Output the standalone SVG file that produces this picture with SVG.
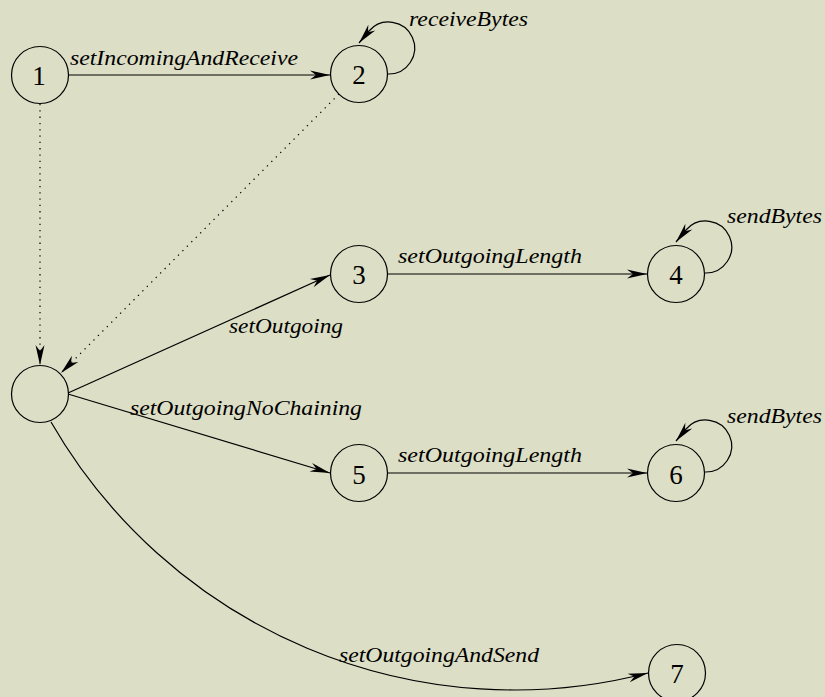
<svg xmlns="http://www.w3.org/2000/svg" width="825" height="697" viewBox="0 0 825 697">
<defs>
<style>
.node circle{fill:none;stroke:#000;stroke-width:1.2}
.node text{font-size:27px;fill:#000;text-anchor:middle}
.edge{fill:none;stroke:#000;stroke-width:1.2;marker-end:url(#arr)}
.dot{stroke-dasharray:1.3 5}
.lbl{font-style:italic;font-size:20px;fill:#000}
</style>
<marker id="arr" markerUnits="userSpaceOnUse" viewBox="-21 -5 22 10" refX="0" refY="0" markerWidth="22" markerHeight="10" orient="auto">
<path d="M0,0 L-20,-4.5 L-14,0 L-20,4.5 Z" fill="#000"/>
</marker>
</defs>
<rect x="0" y="0" width="825" height="697" fill="#dcdec5"/>
<g id="connectors">
<path class="edge" d="M69,75 L330,75"/>
<path class="edge" d="M388,74 A26,26 0 1 0 369,31 L359,43"/>
<path class="edge dot" d="M40,104 L40,365"/>
<path class="edge dot" d="M339,94 L61,373"/>
<path class="edge" d="M68,393 L330,275"/>
<path class="edge" d="M68,394 L330,473"/>
<path class="edge" d="M388,274 L647,274"/>
<path class="edge" d="M705,273 A26,26 0 1 0 686,230 L676,242"/>
<path class="edge" d="M388,473 L647,473"/>
<path class="edge" d="M705,472 A26,26 0 1 0 686,429 L676,441"/>
<path class="edge" d="M51,422 A534.5,534.5 0 0 0 648,673"/>
</g>
<g id="labels" font-family="Liberation Serif, Times New Roman, serif">
<text class="lbl" x="70" y="65" textLength="228" lengthAdjust="spacingAndGlyphs">setIncomingAndReceive</text>
<text class="lbl" x="409" y="26" textLength="119" lengthAdjust="spacingAndGlyphs">receiveBytes</text>
<text class="lbl" x="229" y="333" textLength="114" lengthAdjust="spacingAndGlyphs">setOutgoing</text>
<text class="lbl" x="130" y="415" textLength="232" lengthAdjust="spacingAndGlyphs">setOutgoingNoChaining</text>
<text class="lbl" x="398" y="263" textLength="184" lengthAdjust="spacingAndGlyphs">setOutgoingLength</text>
<text class="lbl" x="398" y="462" textLength="184" lengthAdjust="spacingAndGlyphs">setOutgoingLength</text>
<text class="lbl" x="727" y="223" textLength="95" lengthAdjust="spacingAndGlyphs">sendBytes</text>
<text class="lbl" x="727" y="423" textLength="95" lengthAdjust="spacingAndGlyphs">sendBytes</text>
<text class="lbl" x="339" y="662" textLength="200" lengthAdjust="spacingAndGlyphs">setOutgoingAndSend</text>
</g>
<g id="nodes" font-family="Liberation Serif, Times New Roman, serif">
<g id="n1" class="node"><circle cx="40" cy="75" r="28.5"/><text x="39" y="85">1</text></g>
<g id="n2" class="node"><circle cx="359" cy="74" r="28.5"/><text x="359" y="84">2</text></g>
<g id="n0" class="node"><circle cx="40" cy="394" r="28.5"/></g>
<g id="n3" class="node"><circle cx="359" cy="274" r="28.5"/><text x="359" y="284">3</text></g>
<g id="n4" class="node"><circle cx="676" cy="274" r="28.5"/><text x="676" y="284">4</text></g>
<g id="n5" class="node"><circle cx="359" cy="473" r="28.5"/><text x="359" y="484">5</text></g>
<g id="n6" class="node"><circle cx="676" cy="473" r="28.5"/><text x="676" y="484">6</text></g>
<g id="n7" class="node"><circle cx="677" cy="673" r="28.5"/><text x="677" y="683">7</text></g>
</g>
</svg>
